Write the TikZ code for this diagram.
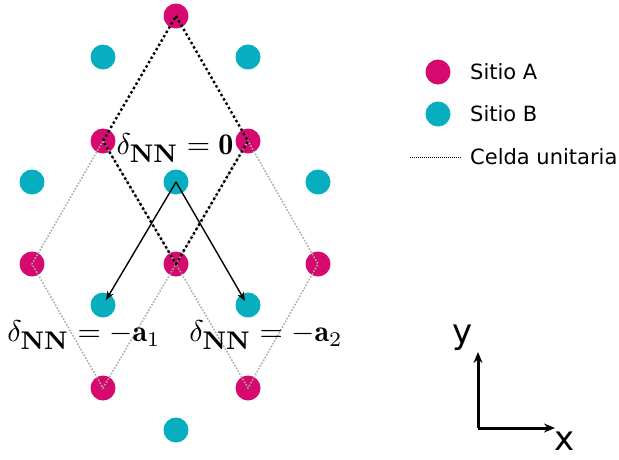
\documentclass[tikz,border=0pt]{standalone}
\usepackage{fontspec}
\newfontfamily\dejavu{DejaVu Sans}
\usetikzlibrary{arrows.meta}
\definecolor{siteA}{RGB}{214,10,110}
\definecolor{siteB}{RGB}{7,174,192}
\definecolor{cellgray}{RGB}{170,170,170}
\newcommand{\nnsub}{\mbox{\fontsize{8.5}{9}\selectfont\bfseries NN}}
\tikzset{
  atomA/.style={circle,fill=siteA,inner sep=0pt,minimum size=25pt},
  atomB/.style={circle,fill=siteB,inner sep=0pt,minimum size=25pt},
  maincell/.style={line width=2.4pt,dash pattern=on 2.4pt off 2.6pt,black},
  sidecell/.style={line width=1.5pt,dash pattern=on 1.6pt off 1.6pt,cellgray},
  legline/.style={line width=0.9pt,dash pattern=on 1pt off 1pt,black},
  vecarrow/.style={line width=1.4pt,-{Stealth[length=9pt,width=7pt]}},
  axarrow/.style={line width=3pt,-{Stealth[length=11pt,width=9pt]}},
  mathlabel/.style={scale=3.0,inner sep=0pt},
  legtext/.style={anchor=west,inner sep=0pt,font=\dejavu\fontsize{21}{25}\selectfont},
  axtext/.style={inner sep=0pt,font=\dejavu\fontsize{34}{40}\selectfont}
}
\begin{document}
\begin{tikzpicture}[x=1pt,y=-1pt]
\path[use as bounding box] (0,0) rectangle (619,459);
% A sites
\node[atomA] (a1) at (176,16) {};
\node[atomA] (a2) at (103,141) {};
\node[atomA] (a3) at (248,141) {};
\node[atomA] (a4) at (32,264) {};
\node[atomA] (a5) at (176,264) {};
\node[atomA] (a6) at (318,264) {};
\node[atomA] (a7) at (103,388) {};
\node[atomA] (a8) at (248,388) {};
% B sites
\node[atomB] (b1) at (103,57) {};
\node[atomB] (b2) at (248,57) {};
\node[atomB] (b3) at (32,182) {};
\node[atomB] (b4) at (176,182) {};
\node[atomB] (b5) at (318,182) {};
\node[atomB] (b6) at (103,305) {};
\node[atomB] (b7) at (248,305) {};
\node[atomB] (b8) at (176,430) {};
% side cells
\draw[sidecell] (a2.center) -- (a4.center) -- (a7.center) -- (a5.center) -- cycle;
\draw[sidecell] (a3.center) -- (a5.center) -- (a8.center) -- (a6.center) -- cycle;
% main cell
\draw[maincell] (a1.center) -- (a3.center) -- (a5.center) -- (a2.center) -- cycle;
% vectors
\coordinate (t1) at (106,300);
\coordinate (t2) at (245,301);
\draw[vecarrow] (b4.center) -- (t1);
\draw[vecarrow] (b4.center) -- (t2);
% labels
\node[mathlabel] (l0) at (175,148) {$\delta_{\nnsub} = \mathbf{0}$};
\node[mathlabel] (l1) at (84,335) {$\delta_{\nnsub} = -\mathbf{a}_1$};
\node[mathlabel] (l2) at (266,335) {$\delta_{\nnsub} = -\mathbf{a}_2$};
% legend
\node[atomA] (la) at (438,72) {};
\node[atomB] (lb) at (438,114) {};
\coordinate (lc1) at (410,157);
\coordinate (lc2) at (462,157);
\draw[legline] (lc1) -- (lc2);
\node[legtext] (ta) at (470,72) {Sitio A};
\node[legtext] (tb) at (470,114) {Sitio B};
\node[legtext] (tc) at (470,157) {Celda unitaria};
% axes
\coordinate (o) at (478,428);
\coordinate (ey) at (478,352);
\coordinate (ex) at (555,428);
\draw[axarrow] (o) -- (ey);
\draw[axarrow] (o) -- (ex);
\node[axtext] (ty) at (463,338) {y};
\node[axtext] (tx) at (565,441) {x};
\end{tikzpicture}
\end{document}
